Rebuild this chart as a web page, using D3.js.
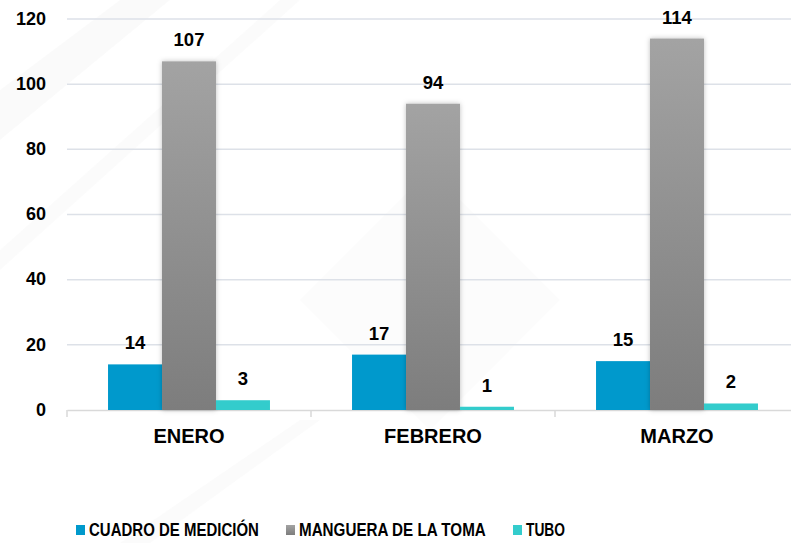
<!DOCTYPE html>
<html>
<head>
<meta charset="utf-8">
<script src="https://cdn.jsdelivr.net/npm/d3@7"></script>
<style>
  body { margin: 0; background: #fff; }
  svg { display: block; font-family: "Liberation Sans", Arial, sans-serif; font-weight: bold; }
</style>
</head>
<body>
<div id="chart"></div>
<script>
// data
const months = ["ENERO", "FEBRERO", "MARZO"];
const seriesNames = ["CUADRO DE MEDICIÓN", "MANGUERA DE LA TOMA", "TUBO"];
const cuadro = [14, 17, 15];
const manguera = [107, 94, 114];
const tubo = [3, 1, 2];
const yTicks = [0, 20, 40, 60, 80, 100, 120];

const width = 791, height = 543;
const margin = {top: 19, right: -8, bottom: 133, left: 67};

const svg = d3.select("#chart").append("svg")
    .attr("width", width)
    .attr("height", height);

const defs = svg.append("defs");
const grad = defs.append("linearGradient")
    .attr("id", "grayGrad").attr("x1", 0).attr("y1", 0).attr("x2", 0).attr("y2", 1);
grad.append("stop").attr("offset", "0%").attr("stop-color", "#a3a3a3");
grad.append("stop").attr("offset", "100%").attr("stop-color", "#7d7d7d");
const shadow = defs.append("filter").attr("id", "shadow")
    .attr("x", "-30%").attr("y", "-10%").attr("width", "160%").attr("height", "120%");
shadow.append("feDropShadow").attr("dx", 0).attr("dy", 0).attr("stdDeviation", 2.5)
    .attr("flood-color", "#000").attr("flood-opacity", 0.25);

// faint watermark shapes in the background
const bg = svg.append("g").attr("opacity", 0.35);
bg.append("path").attr("d", "M0,90 L120,0 L170,0 L0,140 Z").attr("fill", "#f3f3f3");
bg.append("path").attr("d", "M0,250 L280,0 L300,0 L0,270 Z").attr("fill", "#f5f5f5");
bg.append("path").attr("d", "M300,300 L430,430 L560,300 L430,170 Z").attr("fill", "#f7f7f7");
bg.append("path").attr("d", "M120,543 L300,420 L320,420 L150,543 Z").attr("fill", "#f4f4f4");

const x0 = d3.scaleBand()
    .domain(months)
    .range([margin.left, width - margin.right])
    .paddingInner(0).paddingOuter(0);

const x1 = d3.scaleBand()
    .domain(seriesNames)
    .range([0, x0.bandwidth()])
    .paddingOuter(0.76)
    .paddingInner(0);

const y = d3.scaleLinear()
    .domain([0, 120])
    .range([height - margin.bottom, margin.top]);

// gridlines
svg.append("g")
  .selectAll("line")
  .data(yTicks.filter(d => d > 0))
  .join("line")
    .attr("x1", margin.left)
    .attr("x2", width)
    .attr("y1", d => y(d))
    .attr("y2", d => y(d))
    .attr("stroke", "#dde1e8")
    .attr("stroke-width", 1.5);

// y labels
svg.append("g")
  .selectAll("text")
  .data(yTicks)
  .join("text")
    .attr("x", 46)
    .attr("y", d => y(d))
    .attr("dy", "0.32em")
    .attr("text-anchor", "end")
    .attr("font-size", 18)
    .attr("fill", "#000")
    .text(d => d);

// x axis
const xAxis = svg.append("g")
    .attr("transform", `translate(0,${y(0)})`)
    .call(d3.axisBottom(x0).tickSize(0).tickFormat(""));
xAxis.select(".domain").attr("stroke", "#d9d9d9").attr("stroke-width", 1.5);
xAxis.selectAll("line.sep")
  .data(months)
  .join("line")
    .attr("class", "sep")
    .attr("x1", d => x0(d)).attr("x2", d => x0(d))
    .attr("y1", 0).attr("y2", 7)
    .attr("stroke", "#d9d9d9").attr("stroke-width", 1.5);

svg.append("g")
  .selectAll("text")
  .data(months)
  .join("text")
    .attr("x", d => x0(d) + x0.bandwidth() / 2)
    .attr("y", y(0) + 33)
    .attr("text-anchor", "middle")
    .attr("font-size", 20)
    .attr("fill", "#000")
    .text(d => d);

// bars
const colors = ["#0099cc", "url(#grayGrad)", "#33cccc"];
const rows = months.map((m, i) => ({
  month: m,
  values: [cuadro[i], manguera[i], tubo[i]]
}));

const groups = svg.append("g")
  .selectAll("g")
  .data(rows)
  .join("g")
    .attr("transform", d => `translate(${x0(d.month)},0)`);

groups.selectAll("rect")
  .data(d => d.values.map((v, k) => ({key: seriesNames[k], k: k, value: v})))
  .join("rect")
    .attr("x", d => x1(d.key))
    .attr("y", d => y(d.value))
    .attr("width", x1.bandwidth())
    .attr("height", d => y(0) - y(d.value))
    .attr("fill", d => colors[d.k])
    .attr("filter", d => d.k === 1 ? "url(#shadow)" : null);

// value labels
groups.selectAll("text")
  .data(d => d.values.map((v, k) => ({key: seriesNames[k], value: v})))
  .join("text")
    .attr("x", d => x1(d.key) + x1.bandwidth() / 2)
    .attr("y", d => y(d.value) - 15)
    .attr("text-anchor", "middle")
    .attr("font-size", 18.5)
    .attr("fill", "#000")
    .text(d => d.value);

// legend (text squeezed horizontally like the original)
const legendItems = [
  {name: seriesNames[0], color: "#0099cc", x: 76, len: 170},
  {name: seriesNames[1], color: "url(#grayGrad)", x: 286, len: 187},
  {name: seriesNames[2], color: "#33cccc", x: 513, len: 39}
];
const legend = svg.append("g");
legend.selectAll("rect")
  .data(legendItems)
  .join("rect")
    .attr("x", d => d.x)
    .attr("y", 525)
    .attr("width", 9)
    .attr("height", 10)
    .attr("fill", d => d.color);
legend.selectAll("text")
  .data(legendItems)
  .join("text")
    .attr("font-size", 19)
    .attr("fill", "#000")
    .text(d => d.name)
    .attr("transform", function(d) {
      const w = this.getComputedTextLength();
      return `translate(${d.x + 13},536) scale(${d.len / w},1)`;
    });
</script>
</body>
</html>
